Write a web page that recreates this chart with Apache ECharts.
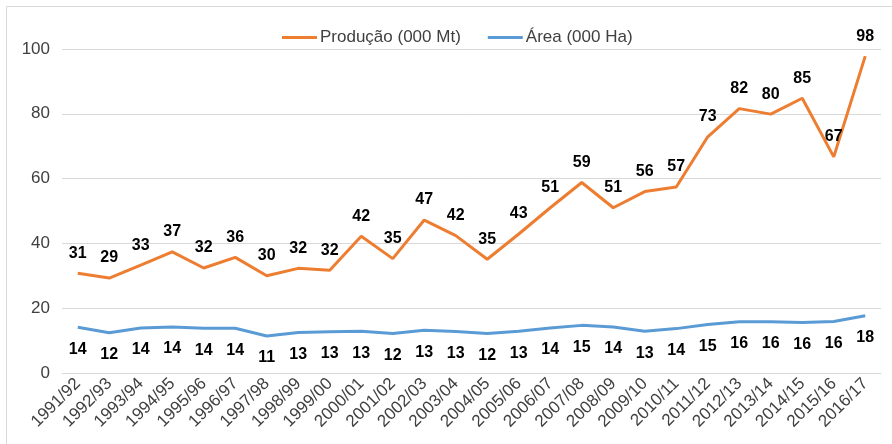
<!DOCTYPE html>
<html>
<head>
<meta charset="utf-8">
<script src="https://cdn.jsdelivr.net/npm/echarts@6/dist/echarts.min.js"></script>
<style>
  html, body { margin: 0; padding: 0; background: #fff; }
  #chart { width: 892px; height: 444px; }
</style>
</head>
<body>
<div id="chart"></div>
<script>
  // safras 1991/92 .. 2016/17
  var safras = [
    '1991/92', '1992/93', '1993/94', '1994/95', '1995/96', '1996/97', '1997/98',
    '1998/99', '1999/00', '2000/01', '2001/02', '2002/03', '2003/04', '2004/05',
    '2005/06', '2006/07', '2007/08', '2008/09', '2009/10', '2010/11', '2011/12',
    '2012/13', '2013/14', '2014/15', '2015/16', '2016/17'
  ];
  var producao = [
    30.8, 29.3, 33.3, 37.4, 32.4, 35.7, 30.0, 32.3, 31.7, 42.2, 35.3, 47.2, 42.4,
    35.1, 42.9, 51.0, 58.8, 51.0, 56.0, 57.4, 72.9, 81.6, 79.9, 84.8, 66.7, 97.8
  ];
  var area = [
    14.1, 12.4, 13.9, 14.2, 13.8, 13.8, 11.4, 12.5, 12.7, 12.9, 12.2, 13.2, 12.8,
    12.2, 12.9, 13.9, 14.7, 14.2, 12.9, 13.7, 15.0, 15.8, 15.8, 15.6, 15.9, 17.7
  ];
  var yTicks = { min: 0, max: 100, interval: 20 };

  var chart = echarts.init(document.getElementById('chart'));
  var fontFamily = '"Liberation Sans", Arial, sans-serif';

  function rounded(p) {
    return Math.round(p.value);
  }

  chart.setOption({
    animation: false,
    textStyle: { fontFamily: fontFamily },
    graphic: [{
      type: 'rect',
      shape: { x: 6.5, y: 6.5, width: 900, height: 460 },
      style: { fill: null, stroke: '#d9d9d9', lineWidth: 1 },
      silent: true
    }],
    legend: {
      left: 277,
      top: 24,
      icon: 'rect',
      itemWidth: 35,
      itemHeight: 3,
      itemGap: 27,
      textStyle: { fontSize: 17, color: '#404040', fontFamily: fontFamily, padding: [0, 0, 0, -2] },
      data: ['Produção (000 Mt)', 'Área (000 Ha)']
    },
    grid: { left: 62, right: 11, top: 49, bottom: 71 },
    xAxis: {
      type: 'category',
      data: safras,
      boundaryGap: true,
      axisLine: { lineStyle: { color: '#d9d9d9' } },
      axisTick: { show: false },
      axisLabel: {
        rotate: 45,
        interval: 0,
        margin: 8,
        fontSize: 17,
        color: '#404040'
      }
    },
    yAxis: {
      type: 'value',
      min: yTicks.min,
      max: yTicks.max,
      interval: yTicks.interval,
      axisLine: { show: false },
      axisTick: { show: false },
      splitLine: { lineStyle: { color: '#d9d9d9' } },
      axisLabel: { fontSize: 17, color: '#404040', margin: 12 }
    },
    series: [
      {
        name: 'Produção (000 Mt)',
        type: 'line',
        data: producao,
        symbol: 'circle',
        symbolSize: 0,
        showSymbol: true,
        itemStyle: { color: '#ED7D31' },
        lineStyle: { color: '#ED7D31', width: 3 },
        label: {
          show: true,
          position: 'top',
          distance: 12,
          formatter: rounded,
          fontSize: 16,
          fontWeight: 'bold',
          color: '#000'
        }
      },
      {
        name: 'Área (000 Ha)',
        type: 'line',
        data: area,
        symbol: 'circle',
        symbolSize: 0,
        showSymbol: true,
        itemStyle: { color: '#5B9BD5' },
        lineStyle: { color: '#5B9BD5', width: 3 },
        label: {
          show: true,
          position: 'bottom',
          distance: 14,
          formatter: rounded,
          fontSize: 16,
          fontWeight: 'bold',
          color: '#000'
        }
      }
    ]
  });
</script>
</body>
</html>
